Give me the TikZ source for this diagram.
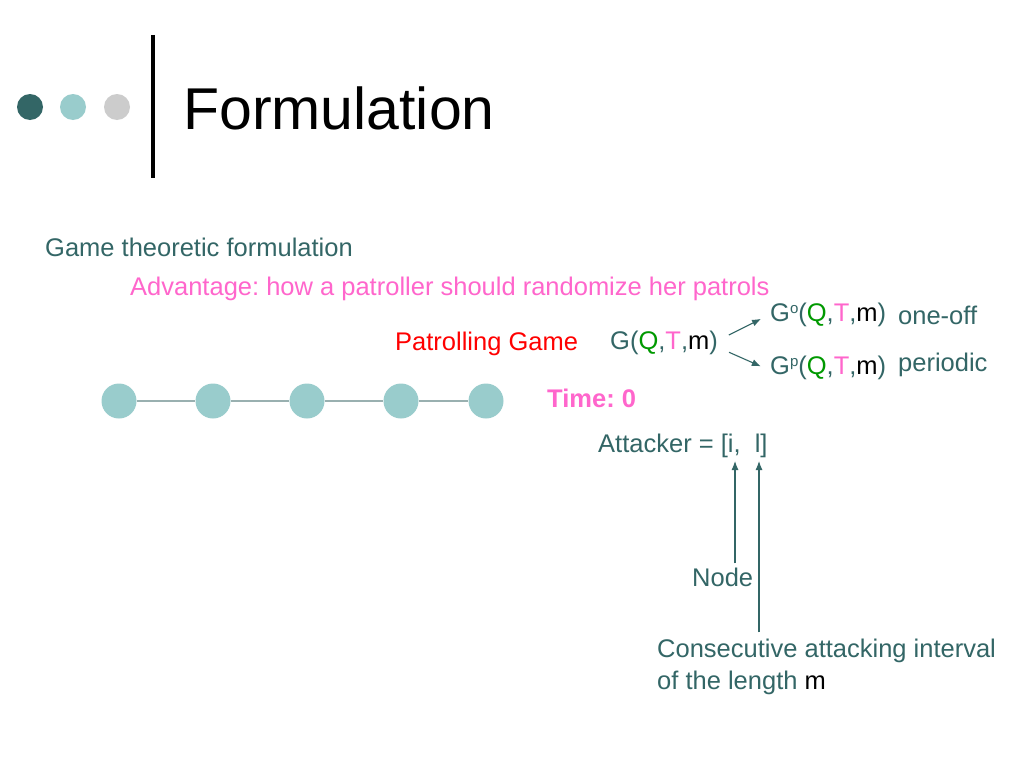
\documentclass[tikz,border=0pt]{standalone}
\usepackage{fontspec}
\setmainfont{Liberation Sans}
\usetikzlibrary{arrows.meta}
\frenchspacing
\definecolor{darkteal}{HTML}{336666}
\definecolor{lightteal}{HTML}{99CCCC}
\definecolor{dotgray}{HTML}{CCCCCC}
\definecolor{chaingray}{HTML}{99B0B0}
\definecolor{slidepink}{HTML}{FF66CC}
\definecolor{slidered}{HTML}{FF0000}
\definecolor{slidegreen}{HTML}{009900}
\newcommand{\qtm}{({\color{slidegreen}Q},{\color{slidepink}T},{\color{black}m})}
\newcommand{\supr}[1]{\raisebox{8pt}{\fontsize{15}{18}\selectfont #1}}

\begin{document}
\begin{tikzpicture}[x=1pt,y=-1pt]
\tikzset{vertex/.style = {shape=circle,fill=lightteal,minimum size=35pt,inner sep=0pt}}
\tikzset{edge/.style = {-{Latex[length=9pt,width=7pt]},draw=darkteal,line width=1.1pt}}
\tikzset{label/.style = {anchor=base west,inner sep=0pt,text=darkteal,font=\fontsize{25.5}{30}\selectfont}}
\useasboundingbox[fill=white] (0,0) rectangle (1024,768);
% title
\fill[darkteal] (30,107) circle (13);
\fill[lightteal] (73,107) circle (13);
\fill[dotgray] (117,107) circle (13);
\draw[line width=4pt] (153,35) -- (153,178);
\node[label,text=black,font=\fontsize{59}{70}\selectfont] (title) at (183,129) {Formulation};
% texts
\node[label] (game) at (45,256) {Game theoretic formulation};
\node[label,text=slidepink] (adv) at (130,295) {Advantage: how a patroller should randomize her patrols};
\node[label,text=slidered] (pgame) at (395,350) {Patrolling Game};
\node[label] (g) at (610,349) {G\qtm};
\node[label] (go) at (770,321) {G\supr{o}\qtm};
\node[label] (gp) at (770,374) {G\supr{p}\qtm};
\node[label] (oneoff) at (898,324) {one-off};
\node[label] (periodic) at (898,371) {periodic};
\node[label,text=slidepink,font=\bfseries\fontsize{25.5}{30}\selectfont] (time) at (547,407) {Time: 0};
\node[label] (attacker) at (598,452) {Attacker = [i,\ \ l]};
\node[label] (nodelbl) at (692,586) {Node};
\node[label] (consec) at (657,657) {Consecutive attacking interval};
\node[label] (length) at (657,689) {of the length {\color{black}m}};
% vertices
\node[vertex] (v1) at (119,401) {};
\node[vertex] (v2) at (213,401) {};
\node[vertex] (v3) at (307,401) {};
\node[vertex] (v4) at (401,401) {};
\node[vertex] (v5) at (486,401) {};
\draw[chaingray,line width=1.5pt] (v1) -- (v2) -- (v3) -- (v4) -- (v5);
%edges
\coordinate (itip) at (735,461);
\coordinate (ltip) at (759,461);
\draw[edge,shorten <=12pt,shorten >=10pt] ([yshift=2pt]g.east) to (go.west);
\draw[edge,shorten <=12pt,shorten >=10pt] ([yshift=-5pt]g.east) to ([yshift=-3pt]gp.west);
\draw[edge] ([yshift=4pt]nodelbl.north -| itip) to (itip);
\draw[edge] ([yshift=6pt]consec.north -| ltip) to (ltip);
\end{tikzpicture}
\end{document}
